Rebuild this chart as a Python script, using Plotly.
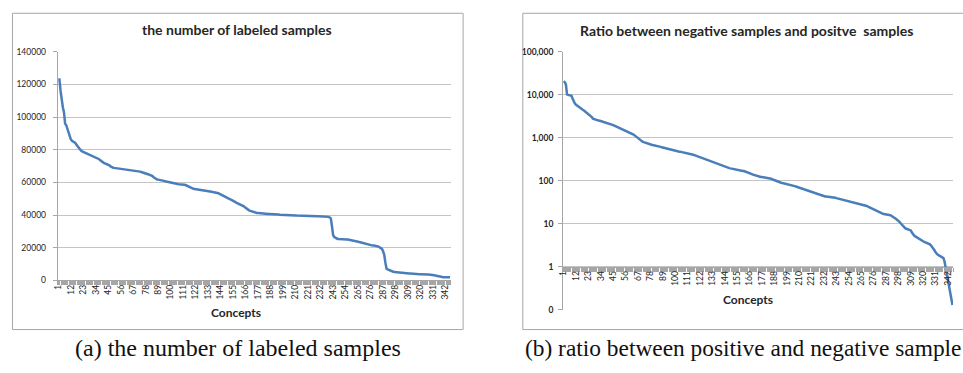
import plotly.graph_objects as go

W, H = 963, 373

# ---------------- data ----------------
concepts = list(range(1, 347))

labeled_samples = [
    123000, 123000, 116000, 109000, 106000, 103000, 96000, 95000, 93000, 90000,
    88000, 86400, 85500, 85000, 84500, 84200, 83000, 82000, 81200, 80000,
    79500, 79000, 78700, 78200, 77800, 77500, 77300, 77000, 76700, 76400,
    76200, 75900, 75700, 75300, 75000, 74900, 74200, 73500, 72800, 72300,
    72000, 71700, 71400, 71100, 70900, 70400, 69800, 69300, 69100, 68900,
    68800, 68700, 68600, 68600, 68500, 68400, 68300, 68200, 68200, 68100,
    68000, 67900, 67900, 67800, 67800, 67600, 67500, 67300, 67200, 67100,
    67000, 66800, 66600, 66400, 66200, 66100, 65900, 65800, 65400, 65000,
    64700, 64500, 64400, 63800, 63200, 62600, 62000, 61800, 61700, 61600,
    61500, 61400, 61400, 61100, 60800, 60600, 60400, 60200, 60000, 59900,
    59700, 59600, 59400, 59300, 59100, 59000, 58900, 58900, 58800, 58800,
    58700, 58600, 58400, 58100, 57800, 57300, 56800, 56400, 56200, 56100,
    56000, 55900, 55900, 55800, 55700, 55700, 55600, 55500, 55400, 55200,
    55000, 54900, 54700, 54500, 54400, 54300, 54100, 54000, 53800, 53600,
    53500, 53400, 53000, 52600, 52100, 51700, 51400, 51100, 50800, 50500,
    50200, 49800, 49500, 49200, 48900, 48400, 47900, 47500, 47200, 46900,
    46600, 46200, 45800, 45500, 44900, 44300, 43700, 43200, 42900, 42600,
    42300, 42100, 41900, 41700, 41500, 41300, 41200, 41100, 41100, 41000,
    41000, 40900, 40900, 40800, 40800, 40700, 40700, 40700, 40600, 40600,
    40600, 40500, 40500, 40400, 40300, 40200, 40200, 40100, 40100, 40000,
    40000, 40000, 39900, 39900, 39900, 39900, 39800, 39800, 39800, 39800,
    39700, 39700, 39700, 39700, 39700, 39600, 39600, 39600, 39600, 39500,
    39500, 39500, 39500, 39400, 39400, 39400, 39300, 39300, 39300, 39200,
    39200, 39100, 39100, 39100, 39000, 39000, 39000, 38900, 38900, 38500,
    38000, 33000, 27600, 26600, 26000, 25600, 25400, 25300, 25200, 25100,
    25100, 25100, 25000, 25000, 25000, 25000, 24900, 24800, 24600, 24500,
    24400, 24300, 24100, 23900, 23700, 23500, 23300, 23100, 22900, 22600,
    22300, 22100, 21900, 21700, 21600, 21500, 21400, 21300, 21300, 21200,
    21200, 21100, 20700, 20200, 19800, 19300, 17800, 15700, 11000, 7300,
    6800, 6400, 6100, 5800, 5500, 5300, 5100, 5000, 4900, 4800,
    4700, 4700, 4600, 4500, 4500, 4400, 4400, 4300, 4300, 4200,
    4200, 4100, 4100, 4000, 4000, 3900, 3900, 3800, 3800, 3800,
    3700, 3700, 3700, 3700, 3600, 3600, 3600, 3600, 3600, 3500,
    3400, 3200, 3000, 2800, 2600, 2400, 2200, 2000, 2000, 2000,
    2000, 2000, 2000, 1900, 1900, 1900,
]

neg_pos_ratio = [
    20600, 19500, 17300, 10200, 9900, 9700, 9500, 9400, 8000, 6650,
    6200, 5800, 5500, 5300, 5000, 4800, 4600, 4450, 4300, 4100,
    3900, 3750, 3600, 3400, 3200, 3000, 2780, 2700, 2650, 2600,
    2550, 2500, 2470, 2430, 2390, 2350, 2310, 2280, 2240, 2200,
    2170, 2140, 2080, 2020, 1960, 1900, 1850, 1800, 1750, 1710,
    1670, 1630, 1590, 1550, 1510, 1470, 1440, 1400, 1360, 1320,
    1270, 1230, 1180, 1130, 1080, 1020, 960, 900, 857, 830,
    810, 790, 770, 750, 735, 720, 705, 695, 685, 678,
    671, 660, 650, 640, 630, 620, 610, 600, 590, 575,
    563, 553, 545, 537, 530, 522, 515, 508, 501, 494,
    488, 482, 477, 473, 468, 463, 458, 453, 448, 443,
    438, 432, 427, 418, 410, 400, 392, 383, 375, 366,
    356, 347, 340, 333, 327, 320, 314, 308, 302, 296,
    290, 283, 277, 270, 262, 255, 248, 241, 234, 228,
    222, 216, 211, 207, 203, 200, 199, 196, 193, 190,
    187, 184, 181, 178, 176, 174, 172, 170, 169, 168,
    167, 164, 161, 158, 154, 150, 146, 142, 138, 135,
    132, 130, 128, 126, 124, 122, 121, 120, 119, 118,
    117, 116, 116, 114, 111, 108, 105, 102, 99, 96.5,
    94.5, 92.5, 91, 89.5, 88, 87, 86, 84.5, 83, 82,
    80.5, 79.5, 78.5, 77.8, 76, 74.5, 73, 71.5, 70, 68.5,
    67, 65.5, 64, 62.5, 61, 59.5, 58, 57, 55.8, 54.8,
    53.8, 52.8, 51.8, 50.9, 50, 49, 48, 47, 46, 45,
    44.2, 43.5, 43, 42.8, 42.6, 42.4, 42.2, 42, 41.6, 41.2,
    40.7, 40, 39.2, 38.6, 38, 37.5, 37, 36.6, 36.2, 35.8,
    35.4, 35, 34.6, 33.8, 33, 32.3, 31.7, 31.2, 30.8, 30.4,
    30, 29.6, 29.2, 28.9, 28.5, 28, 27.5, 27, 26.5, 25.8,
    25, 24.2, 23.4, 22.8, 22.2, 21.6, 21, 20.4, 19.8, 19.2,
    18.6, 18.1, 17.6, 17.1, 16.7, 16.4, 16.2, 16, 15.9, 15.8,
    15.7, 15.2, 14.6, 14, 13.4, 12.8, 12.2, 11.7, 11, 10.2,
    9.5, 8.8, 8.3, 7.85, 7.6, 7.4, 7.2, 7.05, 6.95, 6.2,
    5.55, 5.3, 5.05, 4.85, 4.65, 4.45, 4.27, 4.1, 3.95, 3.85,
    3.75, 3.66, 3.58, 3.52, 3.47, 3.3, 3.1, 2.9, 2.67, 2.4,
    2.15, 1.95, 1.88, 1.82, 1.76, 1.7, 1.64, 1.58, 1.3, 0.94,
    0.72, 0.56, 0.4, 0.28, 0.18, 0.128,
]

x_tick_values = [1, 12, 23, 34, 45, 56, 67, 78, 89, 100, 111, 122, 133, 144, 155, 166,
                 177, 188, 199, 210, 221, 232, 243, 254, 265, 276, 287, 298, 309, 320, 331, 342]
x_tick_labels = [str(v) for v in x_tick_values]

left_y_ticks = [0, 20000, 40000, 60000, 80000, 100000, 120000, 140000]
left_y_labels = ["0", "20000", "40000", "60000", "80000", "100000", "120000", "140000"]

right_y_ticks = [0.1, 1, 10, 100, 1000, 10000, 100000]
right_y_labels = ["0", "1", "10", "100", "1,000", "10,000", "100,000"]

title_left = "the number of labeled samples"
title_right = "Ratio between negative samples and positve  samples"
x_title = "Concepts"
caption_left = "(a) the number of labeled samples"
caption_right = "(b) ratio between positive and negative sample"

# ---------------- styling ----------------
LINE = "#4a7ebb"
GRID = "#c4c4c4"
AXIS = "#a6a6a6"
TXT = "#262626"
FONT = "Lato"


def px(x):
    return x / W


def py(y):
    return 1 - y / H


fig = go.Figure()
fig.add_trace(go.Scatter(x=concepts, y=labeled_samples, mode="lines",
                         line=dict(color=LINE, width=2.5), xaxis="x", yaxis="y",
                         showlegend=False, hoverinfo="skip"))
fig.add_trace(go.Scatter(x=concepts, y=neg_pos_ratio, mode="lines",
                         line=dict(color=LINE, width=2.5), xaxis="x2", yaxis="y2",
                         showlegend=False, hoverinfo="skip"))

yd2 = [py(313), py(48)]
x2_pos = yd2[0] + (yd2[1] - yd2[0]) / 6.0  # where y = 1 on the log axis

xcommon = dict(
    range=[0.5, 346.5], tickmode="array", tickvals=x_tick_values, ticktext=x_tick_labels,
    tickangle=-90, ticks="", showline=True, linecolor=AXIS, linewidth=1,
    showgrid=False, zeroline=False,
    tickfont=dict(family=FONT, size=8.5, color=TXT),
    minor=dict(ticks="outside", ticklen=4, tickcolor=AXIS, tick0=0.5, dtick=1,
               showgrid=False),
)

fig.update_layout(
    width=W, height=H, margin=dict(l=0, r=0, t=0, b=0),
    paper_bgcolor="white", plot_bgcolor="white",
    font=dict(family=FONT, color=TXT),
    xaxis=dict(domain=[px(53), px(448)], anchor="y", **xcommon),
    yaxis=dict(domain=[py(283), py(48)], anchor="x", range=[0, 140000],
               tickmode="array", tickvals=left_y_ticks, ticktext=left_y_labels,
               showgrid=True, gridcolor=GRID, gridwidth=1, zeroline=False,
               showline=True, linecolor=AXIS, ticks="outside", ticklen=4,
               ticklabelstandoff=5,
               tickcolor=AXIS, tickfont=dict(family=FONT, size=8.5, color=TXT)),
    xaxis2=dict(domain=[px(561), px(953)], anchor="free", position=x2_pos, **xcommon),
    yaxis2=dict(domain=yd2, anchor="x2", type="log", range=[-1, 5],
                tickmode="array", tickvals=right_y_ticks, ticktext=right_y_labels,
                showgrid=True, gridcolor=GRID, gridwidth=1, zeroline=False,
                showline=True, linecolor=AXIS, ticks="outside", ticklen=4,
                ticklabelstandoff=3, tickcolor=AXIS,
                tickfont=dict(family=FONT, size=8.5, color=TXT, weight="bold")),
)

shapes = [
    dict(type="rect", xref="paper", yref="paper", x0=px(7.5), x1=px(460.5),
         y0=py(333.5), y1=py(8.5), line=dict(color=AXIS, width=1)),
    dict(type="rect", xref="paper", yref="paper", x0=px(520.5), x1=px(975),
         y0=py(333.5), y1=py(8.5), line=dict(color=AXIS, width=1)),
]
fig.update_layout(shapes=shapes)

ann = [
    dict(text="<b>%s</b>" % title_left, x=px(233), y=py(25), font=dict(size=14)),
    dict(text="<b>%s</b>" % title_right, x=px(745), y=py(26), font=dict(size=14)),
    dict(text="<b>%s</b>" % x_title, x=px(232), y=py(316), font=dict(size=12)),
    dict(text="<b>%s</b>" % x_title, x=px(747), y=py(303), font=dict(size=12)),
]
for a in ann:
    a.update(xref="paper", yref="paper", showarrow=False, xanchor="center",
             yanchor="middle")
fig.update_layout(annotations=ann)
fig.add_annotation(text=caption_left, x=px(234), y=py(352), xref="paper", yref="paper",
                   showarrow=False, xanchor="center", yanchor="middle",
                   font=dict(family="Liberation Serif", size=24, color="#111"))
fig.add_annotation(text=caption_right, x=px(521), y=py(352), xref="paper", yref="paper",
                   showarrow=False, xanchor="left", yanchor="middle",
                   font=dict(family="Liberation Serif", size=23.4, color="#111"))

fig.write_html("out.html", config={"displayModeBar": False},
               post_script="document.body.style.margin='0';")
